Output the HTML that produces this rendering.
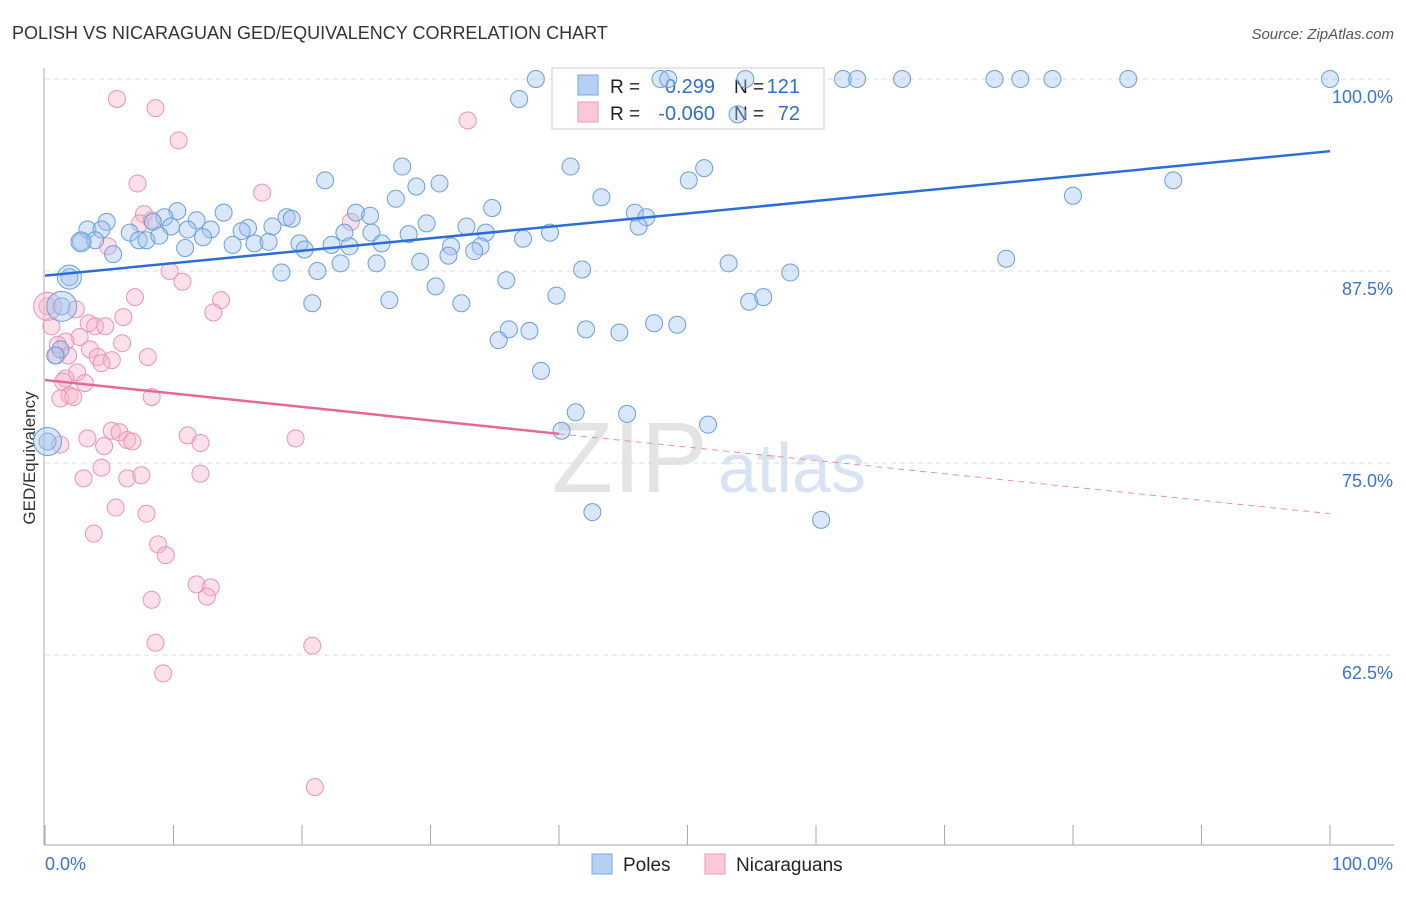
<!DOCTYPE html>
<html><head><meta charset="utf-8"><style>
body{margin:0;background:#fff;font-family:"Liberation Sans",sans-serif;}
svg text{font-family:"Liberation Sans",sans-serif;}
</style></head><body>
<svg width="1406" height="892" viewBox="0 0 1406 892">
<text x="12" y="39" font-size="18" fill="#333">POLISH VS NICARAGUAN GED/EQUIVALENCY CORRELATION CHART</text>
<text x="1394" y="39" font-size="15" fill="#555" text-anchor="end" font-style="italic">Source: ZipAtlas.com</text>
<text x="35" y="458" font-size="17" fill="#333" text-anchor="middle" transform="rotate(-90 35 458)">GED/Equivalency</text>
<text x="552" y="492" font-size="100" fill="#e4e4e4" font-family="Liberation Serif">ZIP</text>
<text x="718" y="492" font-size="70" fill="#d8e4f4">atlas</text>
<g id="grid"></g>
<g id="axes"></g>
<g>
<rect x="552" y="68" width="272" height="61" fill="#fff" stroke="#ccc"/>
<rect x="578" y="75" width="20" height="20" fill="#b6d0f3" stroke="#7aa7e0"/>
<rect x="578" y="102" width="20" height="20" fill="#fbc8d8" stroke="#ec9ab6"/>
<text x="610" y="93" font-size="19" fill="#222">R =</text>
<text x="715" y="93" font-size="20" fill="#2f6fd0" text-anchor="end">0.299</text>
<text x="734" y="93" font-size="19" fill="#222">N =</text>
<text x="800" y="93" font-size="20" fill="#2f6fd0" text-anchor="end">121</text>
<text x="610" y="120" font-size="19" fill="#222">R =</text>
<text x="715" y="120" font-size="20" fill="#2f6fd0" text-anchor="end">-0.060</text>
<text x="734" y="120" font-size="19" fill="#222">N =</text>
<text x="800" y="120" font-size="20" fill="#2f6fd0" text-anchor="end">72</text>
</g>
<g id="pts"></g>
<g id="lines"></g>
<g>
<rect x="592" y="854" width="20" height="20" fill="#b6d0f3" stroke="#7aa7e0"/>
<text x="623" y="871" font-size="19" fill="#222">Poles</text>
<rect x="705" y="854" width="20" height="20" fill="#fbc8d8" stroke="#ec9ab6"/>
<text x="736" y="871" font-size="19" fill="#222">Nicaraguans</text>
</g>
</svg>
<script>
const yTicks=[100,87.5,75,62.5];
const yTickLabels=["100.0%","87.5%","75.0%","62.5%"];
const xEndLabels=["0.0%","100.0%"];
const polesX=[38.2,47.9,48.5,54.5,62.1,63.2,66.7,73.9,75.9,78.4,84.3,100,36.9,53.9,40.9,51.3,27.8,21.8,28.9,30.7,50.1,87.8,43.3,80.0,27.3,34.8,24.2,25.3,45.9,46.8,46.2,13.9,10.3,11.8,9.3,4.8,3.3,4.4,6.6,8.4,9.8,11.1,12.9,15.8,15.3,17.7,18.8,19.2,23.3,25.4,29.7,32.8,34.3,39.3,37.2,28.3,31.6,33.9,2.8,3.9,5.3,7.3,7.9,8.9,10.9,12.3,14.6,16.3,17.4,19.8,20.2,22.3,23.7,26.2,33.4,31.4,29.2,25.8,23.0,21.2,18.4,41.8,53.2,58.0,74.8,35.9,30.4,1.9,1.3,20.8,26.8,32.4,39.8,54.8,55.9,36.1,35.3,37.7,42.1,44.7,47.4,49.2,38.6,41.3,45.3,51.6,40.2,0.2,42.6,60.4,1.2,0.8];
const polesY=[100,100,100,100,100,100,100,100,100,100,100,100,98.7,97.7,94.3,94.2,94.3,93.4,93.0,93.2,93.4,93.4,92.3,92.4,92.2,91.6,91.3,91.1,91.3,91.0,90.4,91.3,91.4,90.8,91.0,90.7,90.2,90.2,90.0,90.7,90.4,90.2,90.2,90.3,90.1,90.4,91.0,90.9,90.0,90.0,90.6,90.4,90.0,90.0,89.6,89.9,89.1,89.1,89.4,89.5,88.6,89.5,89.5,89.8,89.0,89.7,89.2,89.3,89.4,89.3,88.9,89.2,89.1,89.3,88.8,88.5,88.1,88.0,88.0,87.5,87.4,87.6,88.0,87.4,88.3,86.9,86.5,87.1,85.2,85.4,85.6,85.4,85.9,85.5,85.8,83.7,83.0,83.6,83.7,83.5,84.1,84.0,81.0,78.3,78.2,77.5,77.1,76.4,71.8,71.3,82.4,82.0];
const polesBig=[[1.9,87.1,12],[1.3,85.2,15],[0.2,76.4,14],[2.8,89.4,10]];
const nicX=[5.6,8.6,32.9,10.4,7.2,16.9,7.7,7.4,8.3,23.8,4.9,9.7,10.7,7.0,13.7,13.1,0.2,2.4,0.5,3.4,3.9,4.7,6.1,2.7,6.0,1.6,1.0,0.9,1.8,3.5,4.1,5.2,8.0,4.4,2.5,1.6,1.4,3.1,1.9,1.2,8.3,2.2,5.2,5.8,6.4,6.8,11.1,12.1,19.5,3.3,1.2,4.6,4.4,12.1,3.0,6.4,7.5,5.5,7.9,3.8,8.8,9.4,11.8,12.9,12.6,8.3,8.6,9.2,20.8,21.0];
const nicY=[98.7,98.1,97.3,96.0,93.2,92.6,91.2,90.6,90.8,90.7,89.1,87.5,86.8,85.8,85.6,84.8,85.2,85.0,83.9,84.1,83.9,83.9,84.5,83.2,82.8,82.9,82.7,82.0,82.0,82.4,81.9,81.7,81.9,81.5,80.9,80.5,80.3,80.2,79.4,79.2,79.3,79.3,77.1,77.0,76.5,76.4,76.8,76.3,76.6,76.6,76.2,76.1,74.7,74.3,74.0,74.0,74.2,72.1,71.7,70.4,69.7,69.0,67.1,66.9,66.3,66.1,63.3,61.3,63.1,53.9];
const nicBig=[[0.2,85.2,14]];
const polesTrend=[[0,87.2],[100,95.3]];
const nicTrendSolid=[[0,80.4],[40,76.9]];
const nicTrendDash=[[40,76.9],[100,71.7]];
const NS='http://www.w3.org/2000/svg';
const xs=v=>45+v*12.85, ys=v=>79+(100-v)*15.36;
function mk(t,a,p){const e=document.createElementNS(NS,t);for(const k in a)e.setAttribute(k,a[k]);document.getElementById(p).appendChild(e);return e;}
yTicks.forEach((t,i)=>{
 const g=mk('line',{x1:45,x2:1394,y1:ys(t),y2:ys(t),stroke:'#ddd','stroke-dasharray':'5,4'},'grid');
 
 
 const l=mk('text',{x:1393,y:ys(t)+24,'font-size':18,fill:'#3a74d4','text-anchor':'end'},'axes');l.textContent=yTickLabels[i];
 
 
});
const ax=mk('line',{x1:44,x2:44,y1:68,y2:845,stroke:'#aaa'},'axes');


const bx=mk('line',{x1:44,x2:1394,y1:845,y2:845,stroke:'#aaa'},'axes');


for(let i=0;i<=10;i++){const t=mk('line',{x1:xs(i*10),x2:xs(i*10),y1:825,y2:845,stroke:'#aaa'},'axes');
 
 }
[[0,'start',xs(0)],[1,'end',1393]].forEach(([i,a,x])=>{const l=mk('text',{x:x,y:870,'font-size':18,fill:'#3a74d4','text-anchor':a},'axes');l.textContent=xEndLabels[i];
 
 });
function pts(X,Y,big,fill,stroke,name){
 X.forEach((x,i)=>{const c=mk('circle',{cx:xs(x),cy:ys(Y[i]),r:8.5,fill:fill,'fill-opacity':0.4,stroke:stroke,'stroke-width':1},'pts');
  
  });
 big.forEach(b=>{const c=mk('circle',{cx:xs(b[0]),cy:ys(b[1]),r:b[2],fill:fill,'fill-opacity':0.4,stroke:stroke},'pts');
  
  });
}
pts(nicX,nicY,nicBig,'#f7b4ca','#ec94b2','nicaraguans-point');
pts(polesX,polesY,polesBig,'#9fc2ee','#6b9edc','poles-point');
function ln(p,c,w,d,name){const l=mk('line',{x1:xs(p[0][0]),y1:ys(p[0][1]),x2:xs(p[1][0]),y2:ys(p[1][1]),stroke:c,'stroke-width':w},'lines');
 if(d)l.setAttribute('stroke-dasharray',d);
 
 }
ln(polesTrend,'#2b6fd6',2.5,null,'poles-trend-line');
ln(nicTrendSolid,'#e8679a',2.5,null,'nicaraguans-trend-line');
ln(nicTrendDash,'#eb8fb0',1,'6,5','nicaraguans-trend-extension');
</script>
</body></html>
